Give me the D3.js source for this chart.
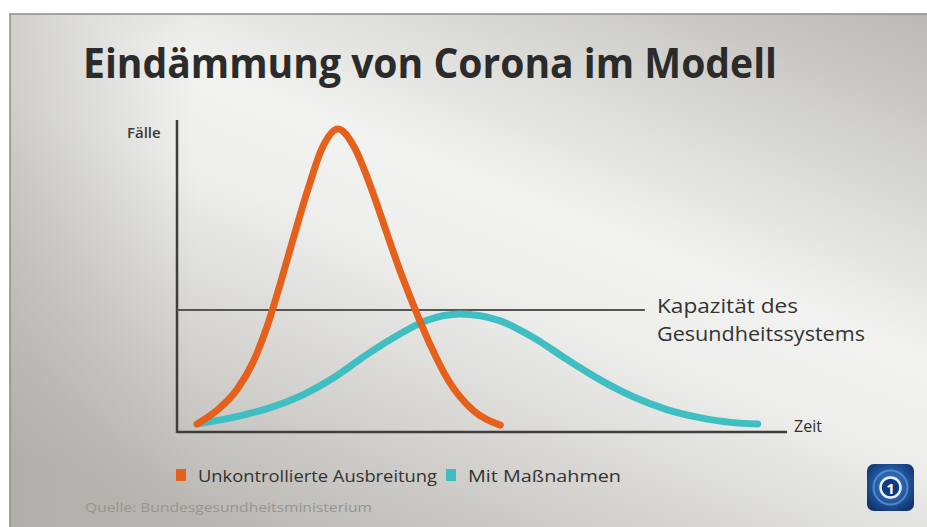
<!DOCTYPE html>
<html>
<head>
<meta charset="utf-8">
<script src="https://cdn.jsdelivr.net/npm/d3@7"></script>
<style>
  html, body { margin: 0; padding: 0; background: #fff; }
  svg { display: block; font-family: "Open Sans", "DejaVu Sans", sans-serif; }
</style>
</head>
<body>
<svg id="chart" width="927" height="527"></svg>
<script>
// model curves, time 0..100, cases 0..100
const timeUnkontrolliert = [3.3, 6.6, 9.8, 12.5, 14.8, 17.0, 19.2, 21.5, 23.8, 26.4, 29.0, 31.5, 34.0, 36.5, 39.0, 41.5, 44.5, 48.5, 53.0]
const casesUnkontrolliert = [2.6, 7.0, 13.5, 22.5, 34.0, 48.0, 63.0, 78.0, 91.0, 97.1, 91.5, 80.0, 66.0, 52.0, 39.5, 28.0, 16.5, 7.0, 2.2]
const timeMassnahmen = [3.3, 9.2, 14.8, 20.2, 25.6, 31.1, 36.6, 41.0, 46.4, 53.0, 58.4, 63.9, 69.3, 74.8, 80.3, 85.7, 91.1, 95.2]
const casesMassnahmen = [2.6, 4.7, 7.5, 11.5, 17.3, 24.8, 31.5, 35.8, 37.8, 35.6, 30.3, 23.3, 16.8, 11.3, 7.2, 4.6, 3.0, 2.6]
const kapazitaet = 39.1
const kapazitaetEnde = 76.7

const seriesNames = ["Unkontrollierte Ausbreitung", "Mit Maßnahmen"]
const seriesColors = ["#e5601b", "#3fbfc1"]
const titleText = "Eindämmung von Corona im Modell"
const yLabel = "Fälle"
const xLabel = "Zeit"
const capLabel = ["Kapazität des", "Gesundheitssystems"]
const sourceText = "Quelle: Bundesgesundheitsministerium"

const svg = d3.select("#chart")
const defs = svg.append("defs")

// background panel gradient
const bg = defs.append("linearGradient").attr("id", "bg")
    .attr("x1", 0.95).attr("y1", 0).attr("x2", 0.25).attr("y2", 1)
bg.append("stop").attr("offset", 0).attr("stop-color", "#bcbbb6")
bg.append("stop").attr("offset", 0.42).attr("stop-color", "#f2f2f0")
bg.append("stop").attr("offset", 0.55).attr("stop-color", "#eeeeec")
bg.append("stop").attr("offset", 1).attr("stop-color", "#b8b6b1")

const leftShade = defs.append("linearGradient").attr("id", "leftShade")
    .attr("x1", 0).attr("y1", 0).attr("x2", 1).attr("y2", 0)
leftShade.append("stop").attr("offset", 0).attr("stop-color", "#a9a7a2").attr("stop-opacity", 0.45)
leftShade.append("stop").attr("offset", 0.2).attr("stop-color", "#a9a7a2").attr("stop-opacity", 0)

const logoGrad = defs.append("radialGradient").attr("id", "logoGrad")
    .attr("cx", 0.5).attr("cy", 0.45).attr("r", 0.7)
logoGrad.append("stop").attr("offset", 0).attr("stop-color", "#3d86d6")
logoGrad.append("stop").attr("offset", 1).attr("stop-color", "#0b2a66")

svg.append("rect").attr("x", 10).attr("y", 14).attr("width", 930).attr("height", 530)
    .attr("fill", "url(#bg)")
svg.append("rect").attr("x", 10).attr("y", 14).attr("width", 930).attr("height", 530)
    .attr("fill", "url(#leftShade)")
    .attr("stroke", "#8c8c8a").attr("stroke-width", 1.5)

// title
svg.append("text")
    .attr("x", 83).attr("y", 78)
    .attr("font-size", 41).attr("font-weight", 700)
    .attr("fill", "#2b2b2b")
    .attr("textLength", 694).attr("lengthAdjust", "spacingAndGlyphs")
    .text(titleText)

// scales
const x = d3.scaleLinear().domain([0, 100]).range([177, 787])
const y = d3.scaleLinear().domain([0, 100]).range([432, 120])

const g = svg.append("g")

// axes
g.append("line")
    .attr("x1", x(0)).attr("x2", x(0)).attr("y1", y(0) + 1).attr("y2", y(100))
    .attr("stroke", "#3e3e3e").attr("stroke-width", 2.5)
g.append("line")
    .attr("x1", x(0)).attr("x2", x(100)).attr("y1", y(0)).attr("y2", y(0))
    .attr("stroke", "#3e3e3e").attr("stroke-width", 2.5)

// capacity line
g.append("line")
    .attr("x1", x(0)).attr("x2", x(kapazitaetEnde)).attr("y1", y(kapazitaet)).attr("y2", y(kapazitaet))
    .attr("stroke", "#555").attr("stroke-width", 2)

const line = d3.line()
    .x(d => x(d[0]))
    .y(d => y(d[1]))
    .curve(d3.curveMonotoneX)

const seriesData = [
    d3.zip(timeUnkontrolliert, casesUnkontrolliert),
    d3.zip(timeMassnahmen, casesMassnahmen)
]

// teal first so orange sits on top at the start, as in the picture
g.selectAll("path.curve")
    .data([1, 0])
    .join("path")
    .attr("class", "curve")
    .attr("d", i => line(seriesData[i]))
    .attr("fill", "none")
    .attr("stroke", i => seriesColors[i])
    .attr("stroke-width", 7)
    .attr("stroke-linecap", "round")
    .attr("stroke-linejoin", "round")

// axis labels
svg.append("text").attr("x", 127).attr("y", 138)
    .attr("font-size", 15).attr("font-weight", 600).attr("fill", "#3a3a3a")
    .text(yLabel)
svg.append("text").attr("x", 794).attr("y", 432)
    .attr("font-size", 16).attr("fill", "#2f2f2f")
    .text(xLabel)

svg.append("text").attr("x", 657).attr("y", 313)
    .attr("font-size", 20.5).attr("fill", "#333")
    .selectAll("tspan")
    .data(capLabel)
    .join("tspan")
    .attr("x", 657)
    .attr("dy", (d, i) => i ? 28 : 0)
    .attr("textLength", (d, i) => i ? 208 : 141)
    .attr("lengthAdjust", "spacingAndGlyphs")
    .text(d => d)

// legend
const legendX = [176, 446]
const legend = svg.append("g").selectAll("g")
    .data(seriesNames)
    .join("g")
    .attr("transform", (d, i) => `translate(${legendX[i]},469)`)
legend.append("rect")
    .attr("width", 10).attr("height", 12)
    .attr("fill", (d, i) => seriesColors[i])
legend.append("text")
    .attr("x", 22).attr("y", 13)
    .attr("font-size", 16.5).attr("fill", "#333")
    .attr("textLength", (d, i) => i ? 153 : 239).attr("lengthAdjust", "spacingAndGlyphs")
    .text(d => d)

// source
svg.append("text").attr("x", 85).attr("y", 512)
    .attr("font-size", 13).attr("fill", "#96958f")
    .attr("textLength", 287).attr("lengthAdjust", "spacingAndGlyphs")
    .text(sourceText)

// broadcaster logo
const logo = svg.append("g").attr("transform", "translate(867,464)")
logo.append("rect").attr("width", 47).attr("height", 47).attr("rx", 7)
    .attr("fill", "url(#logoGrad)")
logo.append("circle").attr("cx", 23.5).attr("cy", 23.5).attr("r", 17)
    .attr("fill", "none").attr("stroke", "#6fa8e8").attr("stroke-width", 2).attr("opacity", 0.6)
logo.append("circle").attr("cx", 23.5).attr("cy", 23.5).attr("r", 10)
    .attr("fill", "#0f3a80").attr("stroke", "#e8f1fb").attr("stroke-width", 2.5)
logo.append("text").attr("x", 23.5).attr("y", 29.5)
    .attr("text-anchor", "middle").attr("font-size", 15).attr("font-weight", 700)
    .attr("fill", "#ffffff")
    .text("1")
</script>
</body>
</html>
